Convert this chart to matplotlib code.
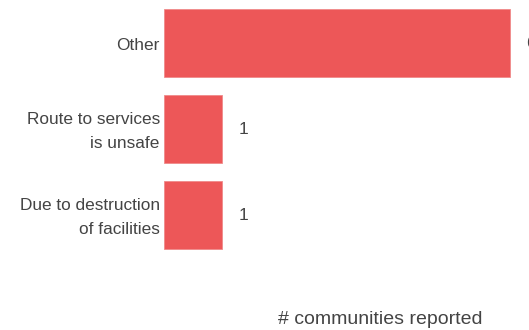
import matplotlib.pyplot as plt
import matplotlib.transforms as mtransforms

# data
categories = ["Other", "Route to services\nis unsafe", "Due to destruction\nof facilities"]
counts = [6, 1, 1]

bar_color = "#ED5758"
text_color = "#444444"

plt.rcParams['font.family'] = ['Liberation Sans', 'DejaVu Sans']

W, H = 529, 330
fig = plt.figure(figsize=(W / 100, H / 100), dpi=100)

# axes extends past the right edge like in the original
left, right, top, bottom = 164, 596, 0, 300
ax = fig.add_axes([left / W, 1 - bottom / H, (right - left) / W, (bottom - top) / H])

y = list(range(len(categories)))
ax.barh(y, counts, height=0.79, color=bar_color, edgecolor='#F08A8A', linewidth=0.6)

ax.set_xlim(0, (right - left) / 57.6)
ax.set_ylim(-0.5 + (bottom - top) / 86.0, -0.5)

ax.set_yticks(y)
ax.set_yticklabels(categories, fontsize=12.4, color=text_color, linespacing=1.78, va='center')
ax.tick_params(axis='y', length=0, pad=3)
ax.set_xticks([])
for s in ax.spines.values():
    s.set_visible(False)

# nudge the category labels down a little
shift = mtransforms.ScaledTranslation(0, -0.025, fig.dpi_scale_trans)
for lab in ax.get_yticklabels():
    lab.set_transform(lab.get_transform() + shift)

for yi, v in zip(y, counts):
    ax.annotate(str(v), (v, yi), xytext=(12, 0), textcoords='offset points',
                va='center', ha='left', fontsize=12.4, color=text_color)

fig.text(380 / W, 1 - 319 / H, "# communities reported", ha='center', va='center',
         fontsize=14, color=text_color)

fig.savefig("out.png", dpi=100)
